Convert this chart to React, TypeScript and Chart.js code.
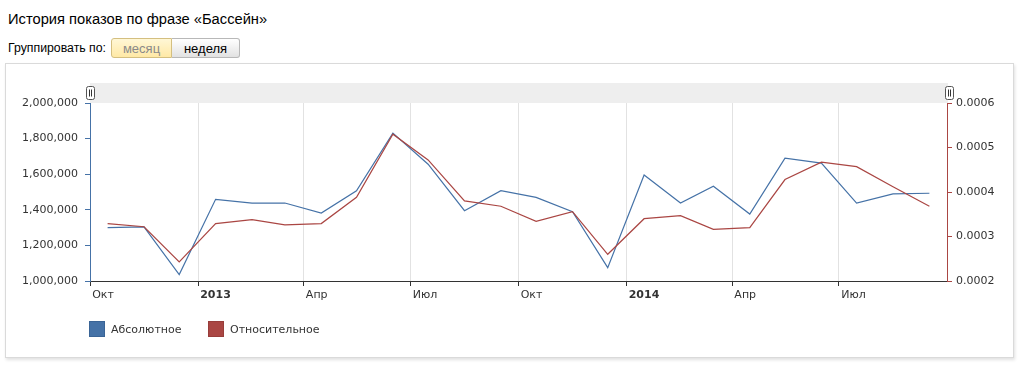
import React, { useEffect, useRef } from 'react';
import { Chart, registerables } from 'chart.js';

Chart.register(...registerables);

const FONT = "'DejaVu Sans', Verdana, sans-serif";

const months = [
  '2012-10', '2012-11', '2012-12', '2013-01', '2013-02', '2013-03', '2013-04', '2013-05',
  '2013-06', '2013-07', '2013-08', '2013-09', '2013-10', '2013-11', '2013-12', '2014-01',
  '2014-02', '2014-03', '2014-04', '2014-05', '2014-06', '2014-07', '2014-08', '2014-09',
];
const absoluteValues = [
  1300000, 1304000, 1036000, 1459000, 1438000, 1438000, 1382000, 1507000,
  1831000, 1656000, 1395000, 1507000, 1470000, 1389000, 1075000, 1596000,
  1438000, 1532000, 1376000, 1690000, 1662000, 1438000, 1489000, 1493000,
];
const relativeValues = [
  0.000329, 0.000322, 0.000243, 0.000329, 0.000338, 0.000326, 0.000329, 0.000388,
  0.00053, 0.000472, 0.00038, 0.000368, 0.000334, 0.000356, 0.00026, 0.00034,
  0.000347, 0.000316, 0.00032, 0.000428, 0.000467, 0.000457, 0.000412, 0.000368,
];
const xRange = ['2012-10', '2014-10'];
const xTickMonths = ['2012-10', '2013-01', '2013-04', '2013-07', '2013-10', '2014-01', '2014-04', '2014-07'];
const xTickLabels = ['Окт', '2013', 'Апр', 'Июл', 'Окт', '2014', 'Апр', 'Июл'];
const seriesNames = ['Абсолютное', 'Относительное'];
const seriesColors = ['#4572A7', '#AA4643'];

const toTime = (m: string, day: number) => {
  const [y, mo] = m.split('-').map(Number);
  return Date.UTC(y, mo - 1, day);
};

const navigatorPlugin = {
  id: 'navigatorDecor',
  beforeDraw(chart: any) {
    const { ctx, chartArea } = chart;
    ctx.save();
    ctx.fillStyle = '#eeeeee';
    ctx.fillRect(chartArea.left, 83, chartArea.right - chartArea.left + 1, 20);
    ctx.restore();
  },
  afterDraw(chart: any) {
    const { ctx, chartArea } = chart;
    const drawHandle = (cx: number) => {
      const x = Math.round(cx - 4) + 0.5;
      const y = 86.5;
      const w = 8;
      const h = 13;
      ctx.save();
      ctx.fillStyle = '#ffffff';
      ctx.strokeStyle = '#555555';
      ctx.lineWidth = 1;
      ctx.beginPath();
      ctx.moveTo(x + 2, y);
      ctx.lineTo(x + w - 2, y);
      ctx.quadraticCurveTo(x + w, y, x + w, y + 2);
      ctx.lineTo(x + w, y + h - 2);
      ctx.quadraticCurveTo(x + w, y + h, x + w - 2, y + h);
      ctx.lineTo(x + 2, y + h);
      ctx.quadraticCurveTo(x, y + h, x, y + h - 2);
      ctx.lineTo(x, y + 2);
      ctx.quadraticCurveTo(x, y, x + 2, y);
      ctx.closePath();
      ctx.fill();
      ctx.stroke();
      ctx.strokeStyle = '#333333';
      ctx.beginPath();
      ctx.moveTo(x + 3, y + 3);
      ctx.lineTo(x + 3, y + h - 3);
      ctx.moveTo(x + 5, y + 3);
      ctx.lineTo(x + 5, y + h - 3);
      ctx.stroke();
      ctx.restore();
    };
    drawHandle(chartArea.left);
    drawHandle(chartArea.right + 1.5);
  },
};

function ChartCanvas() {
  const ref = useRef<HTMLCanvasElement>(null);
  useEffect(() => {
    if (!ref.current) return;
    Chart.defaults.font.family = FONT;
    Chart.defaults.font.size = 11;
    Chart.defaults.color = '#333333';
    const chart = new Chart(ref.current, {
      type: 'line',
      data: {
        datasets: [
          {
            label: seriesNames[0],
            data: months.map((m, i) => ({ x: toTime(m, 16), y: absoluteValues[i] })),
            borderColor: seriesColors[0],
            backgroundColor: seriesColors[0],
            borderWidth: 1.2,
            pointRadius: 0,
            tension: 0,
            yAxisID: 'y',
            order: 1,
          },
          {
            label: seriesNames[1],
            data: months.map((m, i) => ({ x: toTime(m, 16), y: relativeValues[i] })),
            borderColor: seriesColors[1],
            backgroundColor: seriesColors[1],
            borderWidth: 1.2,
            pointRadius: 0,
            tension: 0,
            yAxisID: 'y1',
            order: 0,
          },
        ],
      },
      options: {
        animation: false,
        responsive: false,
        events: [],
        layout: { padding: { top: 103, left: 0, right: 0, bottom: 0 } },
        plugins: {
          legend: { display: false },
          tooltip: { enabled: false },
          title: { display: false },
        },
        scales: {
          x: {
            type: 'linear',
            min: toTime(xRange[0], 1),
            max: toTime(xRange[1], 1),
            afterBuildTicks: (scale: any) => {
              scale.ticks = xTickMonths.map((m) => ({ value: toTime(m, 1) }));
            },
            afterFit: (scale: any) => {
              scale.height = 88;
            },
            grid: {
              color: '#e2e2e2',
              tickColor: '#333333',
              tickLength: 5,
              drawOnChartArea: true,
            },
            border: { color: '#333333', width: 1 },
            ticks: {
              autoSkip: false,
              maxRotation: 0,
              minRotation: 0,
              align: 'start',
              padding: 3,
              color: '#333333',
              font: (ctx: any) => ({
                family: FONT,
                size: 11,
                weight: /^\d{4}$/.test(xTickLabels[ctx.index] || '') ? 'bold' : 'normal',
              }),
              callback: (_v: any, index: number) => '\u2009' + xTickLabels[index],
            },
          },
          y: {
            position: 'left',
            min: 1000000,
            max: 2000000,
            afterFit: (scale: any) => {
              scale.width = 90;
            },
            grid: {
              drawOnChartArea: false,
              tickColor: seriesColors[0],
              tickLength: 5,
            },
            border: { color: seriesColors[0], width: 1 },
            ticks: {
              stepSize: 200000,
              padding: 7,
              color: '#333333',
              callback: (v: any) => Number(v).toLocaleString('en-US'),
            },
          },
          y1: {
            position: 'right',
            min: 0.0002,
            max: 0.0006,
            afterFit: (scale: any) => {
              scale.width = 77;
            },
            grid: {
              drawOnChartArea: false,
              tickColor: seriesColors[1],
              tickLength: 5,
            },
            border: { color: seriesColors[1], width: 1 },
            ticks: {
              stepSize: 0.0001,
              padding: 4,
              color: '#333333',
              callback: (v: any) => Number(v).toFixed(4),
            },
          },
        },
      },
      plugins: [navigatorPlugin],
    } as any);
    return () => chart.destroy();
  }, []);
  return (
    <canvas
      ref={ref}
      width={1024}
      height={369}
      style={{ position: 'absolute', left: 0, top: 0, width: 1024, height: 369, zIndex: 2, pointerEvents: 'none' }}
    />
  );
}

export default function App() {
  const sans = "'Liberation Sans', Arial, sans-serif";
  return (
    <div>
      <div
        style={{
          position: 'absolute', left: 8, top: 11, fontFamily: sans, fontSize: 14.7,
          lineHeight: '16px', color: '#000', whiteSpace: 'nowrap',
        }}
      >
        История показов по фразе «Бассейн»
      </div>
      <div
        style={{
          position: 'absolute', left: 8, top: 38, height: 20, display: 'flex',
          alignItems: 'center', fontFamily: sans, fontSize: 12.3, color: '#000', whiteSpace: 'nowrap',
        }}
      >
        Группировать по:
      </div>
      <div
        style={{
          position: 'absolute', left: 111, top: 38, width: 61, height: 20, boxSizing: 'border-box',
          border: '1px solid #d4bf80', borderRadius: '3px 0 0 3px',
          background: 'linear-gradient(#fff7d6, #ffe9a6)', color: '#8a8a8a',
          fontFamily: sans, fontSize: 13, display: 'flex', alignItems: 'center', justifyContent: 'center',
        }}
      >
        месяц
      </div>
      <div
        style={{
          position: 'absolute', left: 172, top: 38, width: 68, height: 20, boxSizing: 'border-box',
          border: '1px solid #b8b8b8', borderLeft: 'none', borderRadius: '0 3px 3px 0',
          background: 'linear-gradient(#ffffff, #e2e2e2)', color: '#000',
          fontFamily: sans, fontSize: 13, display: 'flex', alignItems: 'center', justifyContent: 'center',
        }}
      >
        неделя
      </div>
      <div
        style={{
          position: 'absolute', left: 5, top: 63, width: 1009, height: 295, boxSizing: 'border-box',
          border: '1px solid #dadada', background: '#fff', boxShadow: '1px 2px 3px rgba(0,0,0,0.12)',
          zIndex: 1,
        }}
      />
      <ChartCanvas />
      {seriesNames.map((name, i) => (
        <div
          key={name}
          style={{
            position: 'absolute', left: i === 0 ? 89 : 208, top: 321, height: 16, display: 'flex',
            alignItems: 'center', zIndex: 3, fontFamily: FONT, fontSize: 11, color: '#333', whiteSpace: 'nowrap',
          }}
        >
          <span
            style={{
              display: 'inline-block', width: 16, height: 16, boxSizing: 'border-box',
              background: seriesColors[i], border: `1px solid ${i === 0 ? '#3a6496' : '#983d3a'}`,
              marginRight: 6,
            }}
          />
          {name}
        </div>
      ))}
    </div>
  );
}
